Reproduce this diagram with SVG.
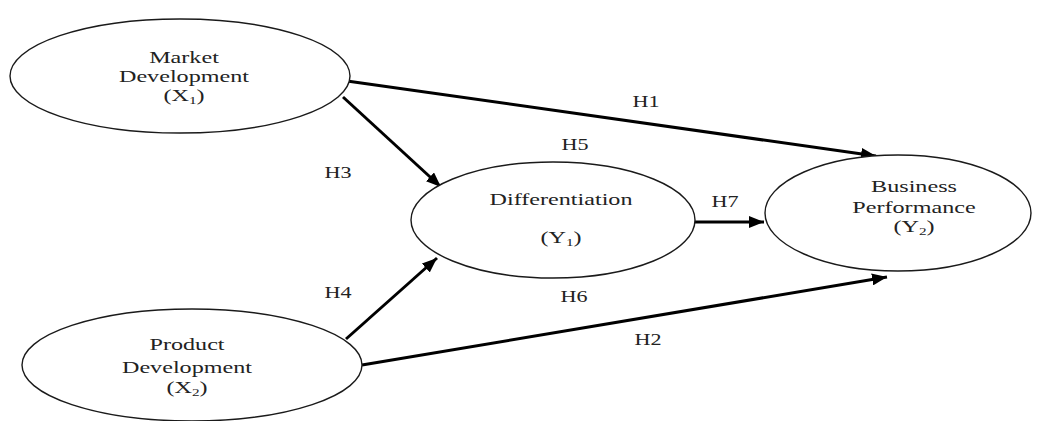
<svg xmlns="http://www.w3.org/2000/svg" width="1038" height="421" viewBox="0 0 1038 421">
<style>
.node ellipse{fill:#fff;stroke:#1a1a1a;stroke-width:1.4}
.t{font-family:"Liberation Serif","Times New Roman",serif;font-size:17.5px;fill:#222;text-anchor:middle}
.lbl{font-family:"Liberation Serif","Times New Roman",serif;font-size:16px;fill:#222;text-anchor:middle}
.sub{font-size:11px}
#connectors line{stroke:#000;stroke-width:3;marker-end:url(#ah)}
</style>
<defs>
<marker id="ah" markerUnits="userSpaceOnUse" markerWidth="16" markerHeight="12" refX="15" refY="6" orient="auto">
<path d="M0,0 L15,6 L0,12 z" fill="#000"/>
</marker>
</defs>
<rect width="1038" height="421" fill="#fff"/>
<g id="connectors">
<line x1="347" y1="81" x2="876" y2="156"/>
<line x1="343" y1="97" x2="441" y2="187"/>
<line x1="346" y1="339" x2="437" y2="258"/>
<line x1="695" y1="222" x2="764" y2="222"/>
<line x1="362" y1="365" x2="887" y2="277"/>
</g>
<g id="labels">
<text class="lbl" transform="translate(646,107) scale(1.38,1)">H1</text>
<text class="lbl" transform="translate(575,150) scale(1.38,1)">H5</text>
<text class="lbl" transform="translate(338,178) scale(1.38,1)">H3</text>
<text class="lbl" transform="translate(725,207) scale(1.38,1)">H7</text>
<text class="lbl" transform="translate(338,298) scale(1.38,1)">H4</text>
<text class="lbl" transform="translate(574,302) scale(1.38,1)">H6</text>
<text class="lbl" transform="translate(648,345) scale(1.38,1)">H2</text>
</g>
<g id="market" class="node">
<ellipse cx="180" cy="76" rx="170" ry="57"/>
<text class="t" transform="translate(184,63) scale(1.38,1)">Market</text>
<text class="t" transform="translate(184,82) scale(1.38,1)">Development</text>
<text class="t" transform="translate(184,101) scale(1.38,1)">(X<tspan class="sub" dy="3">1</tspan><tspan dy="-3">)</tspan></text>
</g>
<g id="product" class="node">
<ellipse cx="192" cy="365" rx="170" ry="56"/>
<text class="t" transform="translate(187,350) scale(1.38,1)">Product</text>
<text class="t" transform="translate(187,373) scale(1.38,1)">Development</text>
<text class="t" transform="translate(187,393) scale(1.38,1)">(X<tspan class="sub" dy="3">2</tspan><tspan dy="-3">)</tspan></text>
</g>
<g id="differentiation" class="node">
<ellipse cx="553" cy="220" rx="142" ry="58"/>
<text class="t" transform="translate(561,205) scale(1.38,1)">Differentiation</text>
<text class="t" transform="translate(561,243) scale(1.38,1)">(Y<tspan class="sub" dy="3">1</tspan><tspan dy="-3">)</tspan></text>
</g>
<g id="business" class="node">
<ellipse cx="898" cy="213" rx="133" ry="58"/>
<text class="t" transform="translate(914,192) scale(1.38,1)">Business</text>
<text class="t" transform="translate(914,213) scale(1.38,1)">Performance</text>
<text class="t" transform="translate(914,232) scale(1.38,1)">(Y<tspan class="sub" dy="3">2</tspan><tspan dy="-3">)</tspan></text>
</g>
</svg>
